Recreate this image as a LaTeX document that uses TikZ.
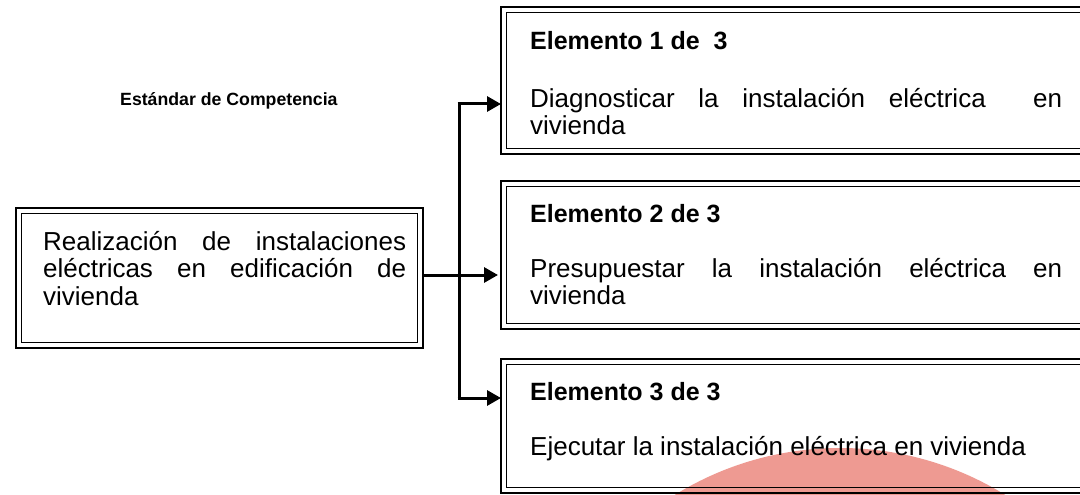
\documentclass[tikz,border=0pt]{standalone}
\usepackage{fontspec}
\setmainfont{Liberation Sans}
\usetikzlibrary{arrows.meta}
\definecolor{salmon}{RGB}{238,154,146}
\newcommand{\jpar}[2]{\parbox[t]{#1}{\tolerance=10000\hyphenpenalty=10000 #2}}
\begin{document}
\begin{tikzpicture}[x=1pt,y=-1pt,
  frame/.style={draw, line width=2.4pt, inner sep=0pt, outer sep=0pt},
  innerframe/.style={line width=1.3pt},
  txt/.style={inner sep=0pt, anchor=base west, font=\fontsize{26}{27.6}\selectfont},
  head/.style={txt, font=\bfseries\fontsize{25}{27.6}\selectfont},
  conn/.style={line width=3pt},
  arr/.style={conn, -{Triangle[length=14pt,width=15pt]}},
  blob/.style={fill=salmon, draw=none}]
\clip (0,0) rectangle (1080,495);
\fill[white] (0,0) rectangle (1080,495);
% background shape
\fill[blob] (840,762) circle[radius=314];
% boxes
\node[frame, minimum width=407pt, minimum height=140pt] (L) at (219.5,278) {};
\node[frame, minimum width=600pt, minimum height=147pt] (E1) at (801,80.5) {};
\node[frame, minimum width=600pt, minimum height=148pt] (E2) at (801,255) {};
\node[frame, minimum width=600pt, minimum height=134pt] (E3) at (801,426) {};
\foreach \n in {L,E1,E2,E3}
  \draw[innerframe] ([shift={(5.5,5.5)}]\n.north west) rectangle ([shift={(-5.5,-5.5)}]\n.south east);
% texts
\node[head, font=\bfseries\fontsize{17.7}{21}\selectfont] (std) at (120,106) {Estándar de Competencia};
\node[txt] (Lt) at (43,250) {\jpar{363pt}{Realización de instalaciones\linebreak eléctricas en edificación de\linebreak vivienda}};
\node[head] (h1) at (530,50) {Elemento 1 de\ \ 3};
\node[txt] (d1) at (530,107) {\jpar{532pt}{Diagnosticar la instalación eléctrica\ \ en\linebreak vivienda}};
\node[head] (h2) at (530,222) {Elemento 2 de 3};
\node[txt] (d2) at (530,277) {\jpar{532pt}{Presupuestar la instalación eléctrica en\linebreak vivienda}};
\node[head] (h3) at (530,400) {Elemento 3 de 3};
\node[txt] (d3) at (530,455) {Ejecutar la instalación eléctrica en vivienda};
% connectors
\coordinate (t1) at (459,104);
\coordinate (t2) at (459,275);
\coordinate (t3) at (459,398);
\draw[conn] (L.east |- t2) -- (t2);
\draw[conn] (t1) -- (t3);
\draw[arr] ([xshift=-1.5pt]t1) -- (E1.west |- t1);
\draw[arr] (t2) -- ([xshift=-3pt]E2.west |- t2);
\draw[arr] ([xshift=-1.5pt]t3) -- (E3.west |- t3);
\end{tikzpicture}
\end{document}
